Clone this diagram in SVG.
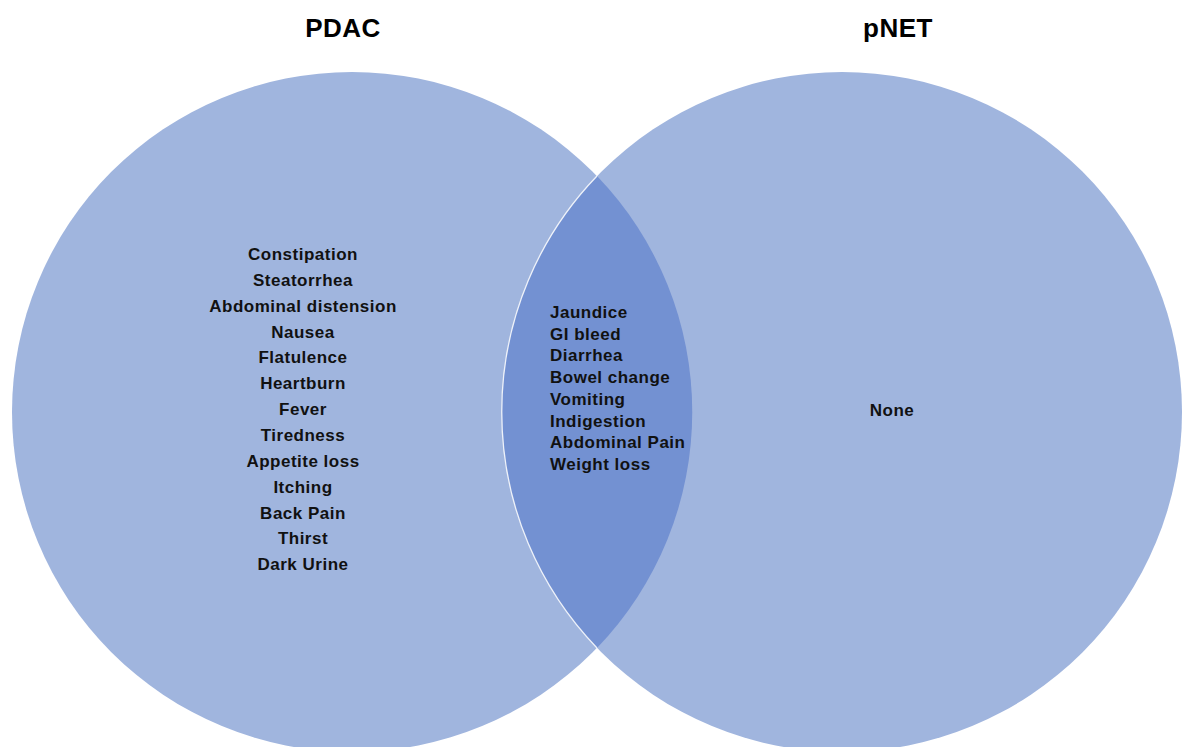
<svg xmlns="http://www.w3.org/2000/svg" width="1191" height="747" viewBox="0 0 1191 747">
  <style>
    .set { fill: #a0b5de; }
    .overlap { fill: #7391d2; }
    .title { font-family: "Liberation Sans", Arial, sans-serif; font-weight: bold; font-size: 26px; letter-spacing: 0.5px; fill: #000; text-anchor: middle; }
    .item { font-family: "Liberation Sans", Arial, sans-serif; font-weight: bold; font-size: 17px; letter-spacing: 0.5px; fill: #111; }
    .mid { text-anchor: middle; }
  </style>
  <rect width="1191" height="747" fill="#ffffff"/>

  <g id="pdac">
    <circle class="set" cx="352" cy="412" r="340"/>
  </g>
  <g id="pnet">
    <circle class="set" cx="842" cy="412" r="340"/>
  </g>
  <g id="shared">
    <path class="overlap" d="M597,176 A340,340 0 0 1 597,648 A340,340 0 0 1 597,176 Z"/>
    <path d="M597,176 A340,340 0 0 0 597,648" fill="none" stroke="#ffffff" stroke-width="1.3" opacity="0.85"/>
  </g>

  <g id="labels">
    <text class="title" x="343" y="37">PDAC</text>
    <text class="title" x="898" y="37">pNET</text>
  </g>

  <g id="pdac-items" class="item mid">
    <text x="303" y="260">Constipation</text>
    <text x="303" y="285.8">Steatorrhea</text>
    <text x="303" y="311.7">Abdominal distension</text>
    <text x="303" y="337.5">Nausea</text>
    <text x="303" y="363.4">Flatulence</text>
    <text x="303" y="389.2">Heartburn</text>
    <text x="303" y="415.1">Fever</text>
    <text x="303" y="441">Tiredness</text>
    <text x="303" y="466.8">Appetite loss</text>
    <text x="303" y="492.7">Itching</text>
    <text x="303" y="518.5">Back Pain</text>
    <text x="303" y="544.4">Thirst</text>
    <text x="303" y="570.2">Dark Urine</text>
  </g>

  <g id="shared-items" class="item">
    <text x="550" y="318">Jaundice</text>
    <text x="550" y="339.7">GI bleed</text>
    <text x="550" y="361.4">Diarrhea</text>
    <text x="550" y="383.1">Bowel change</text>
    <text x="550" y="404.8">Vomiting</text>
    <text x="550" y="426.5">Indigestion</text>
    <text x="550" y="448.2">Abdominal Pain</text>
    <text x="550" y="469.9">Weight loss</text>
  </g>

  <g id="pnet-items" class="item mid">
    <text x="892" y="416">None</text>
  </g>
</svg>
